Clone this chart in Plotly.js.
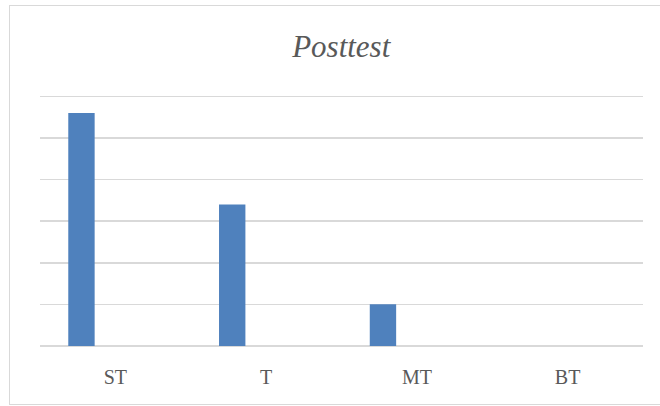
<!DOCTYPE html>
<html>
<head>
<meta charset="utf-8">
<script src="https://cdn.plot.ly/plotly-3.0.1.min.js"></script>
<style>
  html, body { margin: 0; padding: 0; background: #fff; overflow: hidden; width: 660px; height: 406px; }
  #frame { position: absolute; left: 9px; top: 5px; width: 660px; height: 400px; border: 1.5px solid #d9d9d9; box-sizing: border-box; }
  #chart { position: absolute; left: 0; top: 0; width: 660px; height: 406px; }
</style>
</head>
<body>
<div id="frame"></div>
<div id="chart"></div>
<script>
const categories = ["ST", "T", "MT", "BT"];
const values = [28, 17, 5, 0];
const chartTitle = "Posttest";

const trace = {
  type: "bar",
  x: categories,
  y: values,
  width: 0.175,
  offset: -0.3125,
  marker: { color: "#4f81bd", line: { width: 0 } },
  hoverinfo: "x+y"
};

const layout = {
  width: 660,
  height: 406,
  margin: { l: 40, r: 17, t: 95, b: 60.3 },
  paper_bgcolor: "rgba(0,0,0,0)",
  plot_bgcolor: "rgba(0,0,0,0)",
  showlegend: false,
  title: {
    text: "<i>" + chartTitle + "</i>",
    font: { family: "Liberation Serif, Times New Roman, serif", size: 31, color: "#595959" },
    x: 0.517, xanchor: "center",
    y: 1 - 46 / 406, yanchor: "middle", yref: "container"
  },
  xaxis: {
    type: "category",
    showgrid: false,
    showline: false,
    zeroline: false,
    ticks: "outside",
    ticklen: 13,
    tickcolor: "rgba(0,0,0,0)",
    tickfont: { family: "Liberation Serif, Times New Roman, serif", size: 20, color: "#595959" },
    fixedrange: true
  },
  yaxis: {
    range: [0, 30.15],
    tickvals: [0, 5, 10, 15, 20, 25, 30],
    showticklabels: false,
    showgrid: true,
    gridcolor: "#d9d9d9",
    gridwidth: 1.5,
    zeroline: true,
    zerolinecolor: "#d9d9d9",
    zerolinewidth: 1.5,
    showline: false,
    ticks: "",
    fixedrange: true
  }
};

Plotly.newPlot("chart", [trace], layout, { displayModeBar: false, staticPlot: true });
</script>
</body>
</html>
